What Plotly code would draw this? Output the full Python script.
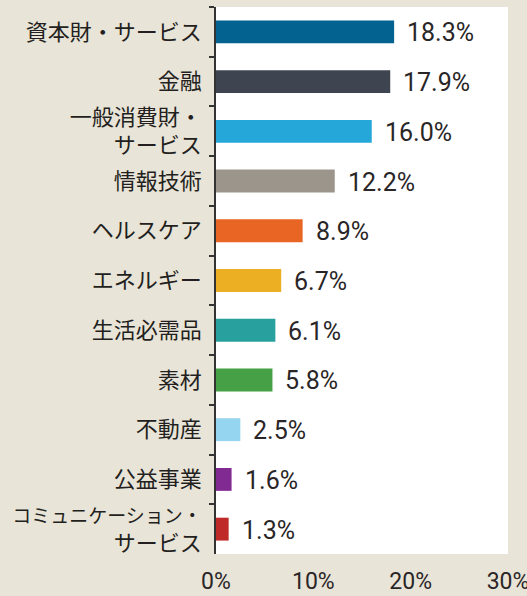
import plotly.graph_objects as go

sectors = ["資本財・サービス", "金融", "一般消費財・<br>サービス", "情報技術", "ヘルスケア",
           "エネルギー", "生活必需品", "素材", "不動産", "公益事業",
           "<span style='font-size:19px'>コミュニケーション・</span><br>サービス"]
weights = [18.3, 17.9, 16.0, 12.2, 8.9, 6.7, 6.1, 5.8, 2.5, 1.6, 1.3]
colors = ["#03628f", "#3e4551", "#25a8d9", "#9c958c", "#e86524", "#ecae23",
          "#27a09e", "#46a045", "#95d5ef", "#812a91", "#bf2a28"]
x_ticks = [0, 10, 20, 30]
x_tick_labels = ["0%", "10%", "20%", "30%"]

num_font = "Roboto, sans-serif"

fig = go.Figure(go.Bar(
    x=weights, y=sectors, orientation="h",
    marker=dict(color=colors, line=dict(width=0)),
    width=0.46,
))

# value labels to the right of each bar
for s, v in zip(sectors, weights):
    fig.add_annotation(
        x=v, y=s, text=f"{v:.1f}%", showarrow=False,
        xanchor="left", xshift=11, yshift=-1,
        font=dict(size=25, color="#2a2627", family=num_font),
    )

fig.update_layout(
    width=527, height=596,
    margin=dict(l=216, r=19, t=7, b=42),
    paper_bgcolor="#e9e4d8", plot_bgcolor="#ffffff",
    font=dict(family="Noto Sans CJK JP", color="#231f20"),
    showlegend=False,
)
fig.update_yaxes(
    autorange="reversed", type="category", automargin=False,
    showline=True, linecolor="#333333", linewidth=1.5,
    ticks="outside", tickson="boundaries", ticklen=5, tickcolor="#333333",
    tickwidth=1.5, tickfont=dict(size=22, color="#231f20"),
    ticklabelstandoff=8, showgrid=False,
)
fig.update_xaxes(
    range=[0, 30], tickvals=x_ticks, ticktext=x_tick_labels, automargin=False,
    showgrid=False, zeroline=False, showline=False, ticks="",
    tickfont=dict(size=23, color="#2a2627", family=num_font),
    ticklabelstandoff=11, ticklabeloverflow="allow",
)

fig.write_html("out.html", config={"displayModeBar": False},
               post_script="document.body.style.margin='0';")
